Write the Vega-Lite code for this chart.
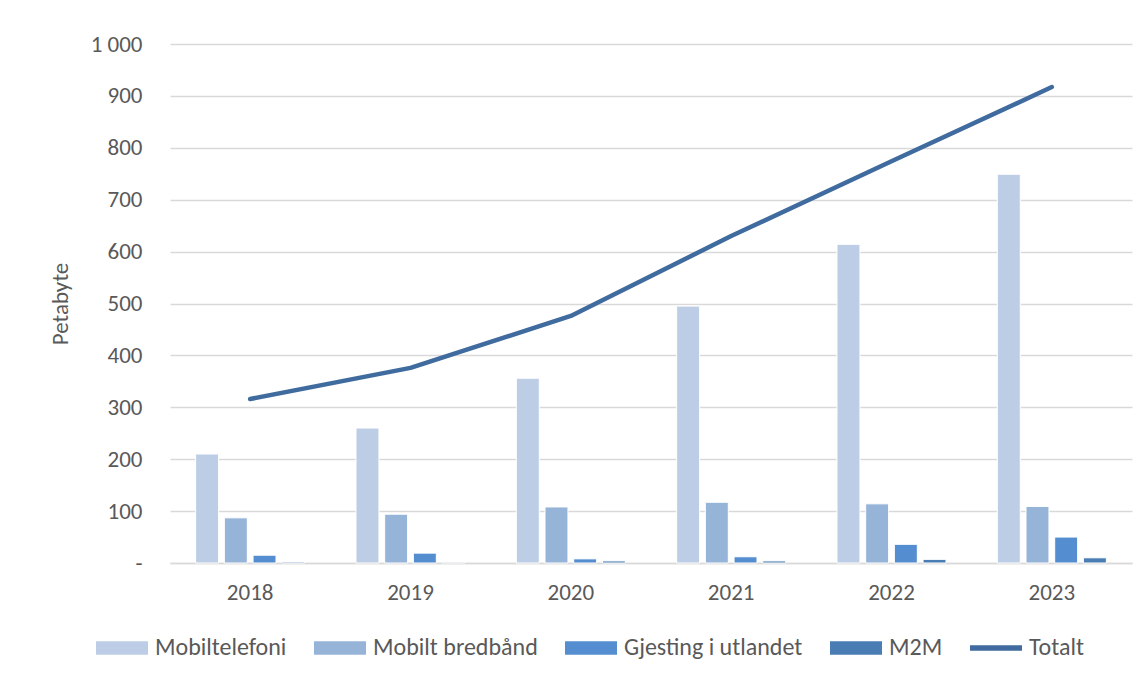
{
  "$schema": "https://vega.github.io/schema/vega-lite/v6.json",
  "width": 962,
  "height": 519,
  "autosize": "none",
  "padding": {"left": 170, "top": 44, "right": 16, "bottom": 116},
  "background": "white",
  "config": {
    "font": "Carlito, Lato, sans-serif",
    "view": {"stroke": null},
    "axis": {"labelFont": "Carlito, Lato, sans-serif", "titleFont": "Carlito, Lato, sans-serif"},
    "legend": {"labelFont": "Carlito, Lato, sans-serif"}
  },
  "datasets": {
    "bars": [
      {"year": "2018", "series": "Mobiltelefoni", "value": 210},
      {"year": "2018", "series": "Mobilt bredbånd", "value": 87},
      {"year": "2018", "series": "Gjesting i utlandet", "value": 15},
      {"year": "2018", "series": "M2M", "value": 2},
      {"year": "2019", "series": "Mobiltelefoni", "value": 260},
      {"year": "2019", "series": "Mobilt bredbånd", "value": 94},
      {"year": "2019", "series": "Gjesting i utlandet", "value": 19},
      {"year": "2019", "series": "M2M", "value": 1.5},
      {"year": "2020", "series": "Mobiltelefoni", "value": 356},
      {"year": "2020", "series": "Mobilt bredbånd", "value": 108},
      {"year": "2020", "series": "Gjesting i utlandet", "value": 8},
      {"year": "2020", "series": "M2M", "value": 4},
      {"year": "2021", "series": "Mobiltelefoni", "value": 495},
      {"year": "2021", "series": "Mobilt bredbånd", "value": 117},
      {"year": "2021", "series": "Gjesting i utlandet", "value": 12},
      {"year": "2021", "series": "M2M", "value": 4},
      {"year": "2022", "series": "Mobiltelefoni", "value": 614},
      {"year": "2022", "series": "Mobilt bredbånd", "value": 114},
      {"year": "2022", "series": "Gjesting i utlandet", "value": 36},
      {"year": "2022", "series": "M2M", "value": 7},
      {"year": "2023", "series": "Mobiltelefoni", "value": 749},
      {"year": "2023", "series": "Mobilt bredbånd", "value": 109},
      {"year": "2023", "series": "Gjesting i utlandet", "value": 50},
      {"year": "2023", "series": "M2M", "value": 10}
    ],
    "total": [
      {"year": "2018", "value": 316},
      {"year": "2019", "value": 376},
      {"year": "2020", "value": 476},
      {"year": "2021", "value": 630},
      {"year": "2022", "value": 774},
      {"year": "2023", "value": 917}
    ]
  },
  "layer": [
    {
      "data": {"name": "bars"},
      "mark": {"type": "bar", "stroke": "white", "strokeWidth": 1},
      "encoding": {
        "x": {
          "field": "year", "type": "nominal",
          "scale": {"paddingInner": 0.32, "paddingOuter": 0.16},
          "axis": {
            "title": null, "labelAngle": 0, "ticks": false,
            "domainColor": "#D9D9D9", "domainWidth": 1.5,
            "labelFontSize": 23, "labelColor": "#595959", "labelPadding": 18
          }
        },
        "xOffset": {
          "field": "series", "type": "nominal",
          "sort": ["Mobiltelefoni", "Mobilt bredbånd", "Gjesting i utlandet", "M2M"],
          "scale": {"paddingInner": 0.2}
        },
        "y": {
          "field": "value", "type": "quantitative",
          "scale": {"domain": [0, 1000]},
          "axis": {
            "title": "Petabyte", "titleFontSize": 23, "titleFontWeight": "normal", "titleColor": "#595959",
            "titlePadding": 18,
            "values": [0, 100, 200, 300, 400, 500, 600, 700, 800, 900, 1000],
            "labelExpr": "datum.value === 0 ? '-' : replace(format(datum.value, ','), ',', ' ')",
            "labelFontSize": 23, "labelColor": "#595959", "labelPadding": 28,
            "ticks": false, "domain": false,
            "gridColor": "#D9D9D9", "gridWidth": 1.5
          }
        },
        "color": {
          "field": "series", "type": "nominal",
          "scale": {
            "domain": ["Mobiltelefoni", "Mobilt bredbånd", "Gjesting i utlandet", "M2M", "Totalt"],
            "range": ["#BDCDE6", "#96B3D8", "#558ED0", "#4A7DB3", "#3F6B9E"]
          },
          "legend": {
            "title": null, "orient": "none", "direction": "horizontal", "columns": 5,
            "legendX": -74, "legendY": 578,
            "labelFontSize": 24, "labelColor": "#595959", "labelOffset": 7, "labelLimit": 400,
            "columnPadding": 27, "symbolSize": 2704, "symbolStrokeWidth": 0,
            "symbolOpacity": 1,
            "symbolType": {"expr": "datum.value === 'Totalt' ? 'M-1,-0.11H1V0.11H-1Z' : 'M-1,-0.26H1V0.26H-1Z'"}
          }
        }
      }
    },
    {
      "data": {"name": "total"},
      "mark": {"type": "line", "strokeWidth": 4.5, "strokeCap": "round", "strokeJoin": "round"},
      "encoding": {
        "x": {"field": "year", "type": "nominal"},
        "y": {"field": "value", "type": "quantitative"},
        "color": {"datum": "Totalt"}
      }
    }
  ]
}
